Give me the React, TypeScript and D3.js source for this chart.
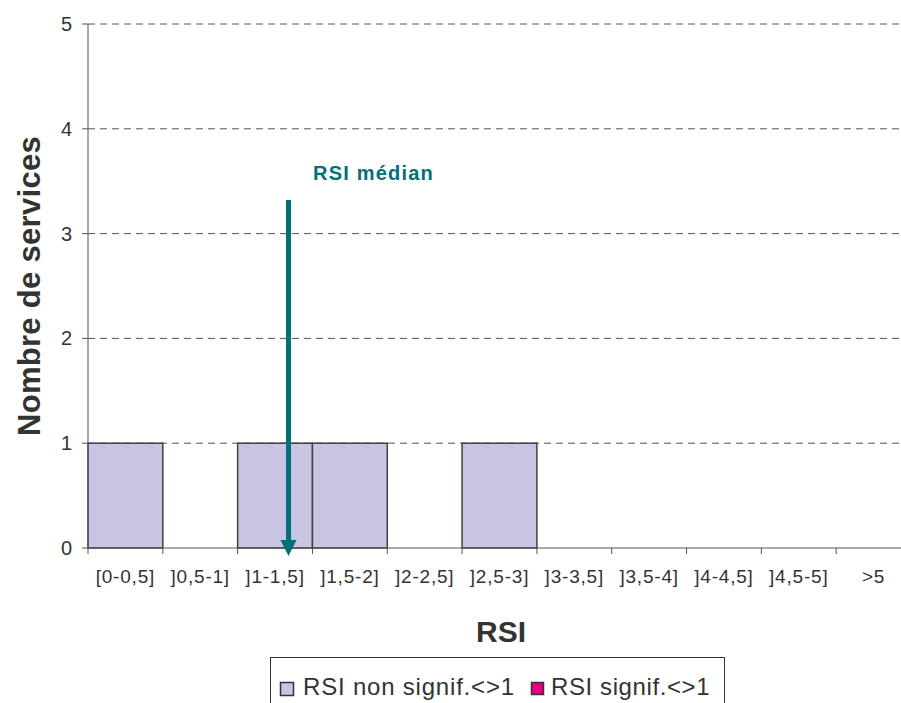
import React from "react";
import * as d3 from "d3";

const categories = ["[0-0,5]", "]0,5-1]", "]1-1,5]", "]1,5-2]", "]2-2,5]", "]2,5-3]", "]3-3,5]", "]3,5-4]", "]4-4,5]", "]4,5-5]", ">5"];
const nonSignif = [1, 0, 1, 1, 0, 1, 0, 0, 0, 0, 0];
const signif = [0, 0, 0, 0, 0, 0, 0, 0, 0, 0, 0];
const yTicks = [0, 1, 2, 3, 4, 5];
const medianRSI = 1.34;
const medianTop = 3.32;
const legendItems = ["RSI non signif.<>1", "RSI signif.<>1"];
const colors = ["#C8C5E2", "#E6007E"];

export default function App() {
  const W = 901, H = 703;
  const left = 88, right = 911, top = 24, bottom = 548;
  const x = d3.scaleBand<string>().domain(categories).range([left, right]).padding(0);
  const xv = d3.scaleLinear().domain([0, 5.5]).range([left, right]);
  const y = d3.scaleLinear().domain([0, 5]).range([bottom, top]);
  const bw = x.bandwidth();
  const font = "'Liberation Sans', Arial, sans-serif";
  const teal = "#00707A";
  const mx = xv(medianRSI);
  const stacked = categories.map((c, i) => ({ c, a: nonSignif[i], b: signif[i] }));
  return (
    <svg width={W} height={H} style={{ position: "absolute", left: 0, top: 0 }} fontFamily={font}>
      <rect width={W} height={H} fill="#fff" />
      {yTicks.filter(t => t > 0).map(t => (
        <line key={t} x1={left} x2={W} y1={y(t)} y2={y(t)} stroke="#555" strokeWidth={1} strokeDasharray="7,5" />
      ))}
      {stacked.map(d => d.a > 0 && (
        <rect key={d.c} x={x(d.c)!} y={y(d.a)} width={bw} height={y(0) - y(d.a)} fill={colors[0]} stroke="#404040" strokeWidth={1.5} />
      ))}
      {stacked.map(d => d.b > 0 && (
        <rect key={"b" + d.c} x={x(d.c)!} y={y(d.a + d.b)} width={bw} height={y(d.a) - y(d.a + d.b)} fill={colors[1]} stroke="#404040" strokeWidth={1.5} />
      ))}
      <line x1={left} x2={left} y1={top} y2={bottom} stroke="#555" strokeWidth={1} />
      <line x1={left} x2={W} y1={bottom} y2={bottom} stroke="#555" strokeWidth={1} />
      {yTicks.map(t => (
        <g key={t}>
          <line x1={left - 6} x2={left} y1={y(t)} y2={y(t)} stroke="#555" />
          <text x={72} y={y(t) + 7} textAnchor="end" fontSize={20} fill="#333">{t}</text>
        </g>
      ))}
      {categories.map((c, i) => (
        <g key={c}>
          <line x1={x(c)!} x2={x(c)!} y1={bottom} y2={bottom + 6} stroke="#555" />
          <text x={x(c)! + bw / 2} y={583} textAnchor="middle" fontSize={19} letterSpacing={0.8} fill="#333">{c}</text>
        </g>
      ))}
      <line x1={mx} x2={mx} y1={y(medianTop)} y2={bottom - 8} stroke={teal} strokeWidth={5} />
      <path d={`M${mx - 8},${bottom - 8} L${mx + 8},${bottom - 8} L${mx},${bottom + 8} Z`} fill={teal} />
      <text x={313} y={180} fontSize={20} fontWeight="bold" letterSpacing={1.2} fill={teal}>RSI médian</text>
      <text transform={`translate(40,286) rotate(-90)`} textAnchor="middle" fontSize={31} fontWeight="bold" letterSpacing={0.3} fill="#333">Nombre de services</text>
      <text x={501} y={642} textAnchor="middle" fontSize={30} fontWeight="bold" fill="#333">RSI</text>
      <rect x={270.5} y={657.5} width={454} height={60} fill="#fff" stroke="#333" strokeWidth={1} />
      <rect x={280.5} y={682.5} width={13} height={13} fill={colors[0]} stroke="#333" strokeWidth={1.5} />
      <text x={303} y={695} fontSize={24} letterSpacing={0.8} fill="#333">{legendItems[0]}</text>
      <rect x={531.5} y={682.5} width={12} height={12} fill={colors[1]} stroke="#333" strokeWidth={1.5} />
      <text x={551} y={695} fontSize={24} letterSpacing={0.6} fill="#333">{legendItems[1]}</text>
    </svg>
  );
}
